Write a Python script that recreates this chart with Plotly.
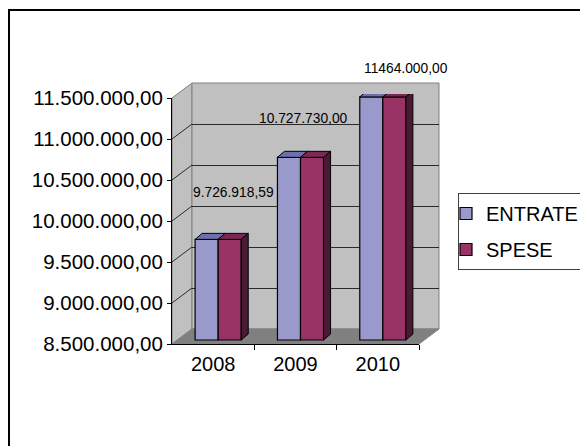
import plotly.graph_objects as go

# ---------------- data ----------------
YEARS = ["2008", "2009", "2010"]
SERIES_NAMES = ["ENTRATE", "SPESE"]
ENTRATE = [9726918.59, 10727730.00, 11464000.00]
SPESE = [9726918.59, 10727730.00, 11464000.00]
DATA_LABELS = ["9.726.918,59", "10.727.730,00", "11464.000,00"]
Y_TICKS = [8500000, 9000000, 9500000, 10000000, 10500000, 11000000, 11500000]
Y_TICK_LABELS = ["8.500.000,00", "9.000.000,00", "9.500.000,00", "10.000.000,00",
                 "10.500.000,00", "11.000.000,00", "11.500.000,00"]

Y_MIN, Y_MAX = Y_TICKS[0], Y_TICKS[-1]
X_POS = list(range(len(YEARS)))
X_RANGE = [-0.5, len(YEARS) - 0.5]

# ---------------- geometry (px) ----------------
W, H = 580, 446
FL, FR, FT, FB = 172, 419, 98, 344          # front plane of the plot box
BACK_DX, BACK_DY = 20, 15                   # depth offset of the back wall
BAR_DX, BAR_DY = 5, 4                       # depth offset of the bar plane
BAR_DEPTH_X, BAR_DEPTH_Y = 7, 6             # depth of each bar
PAD = 3                                     # extra room below bar plane (for outline)

L, R, T, B = FL, FR + BACK_DX, FT - BACK_DY, FB
PW, PH = R - L, B - T
PPX = (FR - FL) / (X_RANGE[1] - X_RANGE[0])     # px per category unit
PPY = (FB - FT) / (Y_MAX - Y_MIN)               # px per value unit

def paper(px, py):
    return (px - L) / PW, (B - py) / PH

def front_y(v):
    return FB - (v - Y_MIN) * PPY

FONT = "Arial, 'Liberation Sans', sans-serif"
C_ENT, C_SPE = "#9999CC", "#993366"
C_ENT_TOP, C_SPE_TOP, C_SPE_SIDE = "#6F6FAE", "#7A2952", "#4A1A35"
WALL, FLOOR, EDGE, GRID = "#C0C0C0", "#808080", "#808080", "#2a2a2a"

BARGAP = 0.44
BW = (1 - BARGAP) / 2

fig = go.Figure()

fig.add_trace(go.Bar(x=X_POS, y=[v - Y_MIN for v in ENTRATE], base=Y_MIN, name=SERIES_NAMES[0],
                     marker=dict(color=C_ENT, line=dict(color="black", width=1.2)),
                     xaxis="x2", yaxis="y2", legendgroup="a"))
fig.add_trace(go.Bar(x=X_POS, y=[v - Y_MIN for v in SPESE], base=Y_MIN, name=SERIES_NAMES[1],
                     marker=dict(color=C_SPE, line=dict(color="black", width=1.2)),
                     xaxis="x2", yaxis="y2", legendgroup="b"))
# invisible traces anchoring the front axes and the back-wall axes
fig.add_trace(go.Scatter(x=[X_RANGE[0]], y=[Y_MIN], mode="markers", marker=dict(opacity=0),
                         showlegend=False, hoverinfo="skip", xaxis="x3", yaxis="y3"))
fig.add_trace(go.Scatter(x=[X_RANGE[0]], y=[Y_MIN], mode="markers", marker=dict(opacity=0),
                         showlegend=False, hoverinfo="skip", xaxis="x", yaxis="y"))

shapes = []

def poly(points, fill, line_color, width=1, layer="below", xref="paper", yref="paper"):
    d = "M " + " L ".join(f"{x},{y}" for x, y in points) + " Z"
    return dict(type="path", path=d, xref=xref, yref=yref, fillcolor=fill,
                line=dict(color=line_color, width=width), layer=layer)

# side wall
shapes.append(poly([paper(FL, FB), paper(FL, FT), paper(FL + BACK_DX, FT - BACK_DY),
                    paper(FL + BACK_DX, FB - BACK_DY)], WALL, EDGE))
# back wall
shapes.append(dict(type="rect", xref="x domain", yref="y domain", x0=0, x1=1, y0=0, y1=1,
                   fillcolor=WALL, line=dict(color=EDGE, width=1), layer="below"))
# floor
shapes.append(poly([paper(FL, FB), paper(FR, FB), paper(FR + BACK_DX, FB - BACK_DY),
                    paper(FL + BACK_DX, FB - BACK_DY)], FLOOR, EDGE))
# diagonal grid lines on the side wall
for v in Y_TICKS[1:-1]:
    x0, y0 = paper(FL, front_y(v))
    x1, y1 = paper(FL + BACK_DX, front_y(v) - BACK_DY)
    shapes.append(dict(type="line", xref="paper", yref="paper", x0=x0, y0=y0, x1=x1, y1=y1,
                       line=dict(color=GRID, width=1), layer="below"))

# 3-D faces of the bars (in bar-plane data units)
dxu = BAR_DEPTH_X / PPX
dyu = BAR_DEPTH_Y / PPY
for i, (ve, vs) in enumerate(zip(ENTRATE, SPESE)):
    x0, x1 = i - BW, i
    shapes.append(poly([(x0, ve), (x1, ve), (x1 + dxu, ve + dyu), (x0 + dxu, ve + dyu)],
                       C_ENT_TOP, "black", 1, "above", "x2", "y2"))
    x0, x1 = i, i + BW
    shapes.append(poly([(x0, vs), (x1, vs), (x1 + dxu, vs + dyu), (x0 + dxu, vs + dyu)],
                       C_SPE_TOP, "black", 1, "above", "x2", "y2"))
    shapes.append(poly([(x1, vs), (x1 + dxu, vs + dyu), (x1 + dxu, Y_MIN + dyu), (x1, Y_MIN)],
                       C_SPE_SIDE, "black", 1, "above", "x2", "y2"))

# outer chart border
bx0, by1 = paper(9, 10)
bx1, by0 = paper(W + 20, H + 20)
shapes.append(dict(type="rect", xref="paper", yref="paper", x0=bx0, x1=bx1, y0=by0, y1=by1,
                   line=dict(color="black", width=2), fillcolor="rgba(0,0,0,0)", layer="above"))

# data labels
LABEL_SHIFTS = [(15, 47), (3, 39), (23, 28)]
annotations = []
for i, (v, txt) in enumerate(zip(SPESE, DATA_LABELS)):
    annotations.append(dict(x=i, y=v, xref="x2", yref="y2", text=txt, showarrow=False,
                            xshift=LABEL_SHIFTS[i][0], yshift=LABEL_SHIFTS[i][1],
                            font=dict(size=13.8, color="black", family=FONT)))

hidden = dict(visible=False, showgrid=False, zeroline=False)

fig.update_layout(
    width=W, height=H,
    margin=dict(l=L, r=W - R, t=T, b=H - B, autoexpand=False),
    paper_bgcolor="white", plot_bgcolor="rgba(0,0,0,0)",
    font=dict(family=FONT, color="black", size=20),
    barmode="group", bargap=BARGAP, bargroupgap=0,
    showlegend=True,
    legend=dict(x=(458 - L) / PW, y=(B - 193) / PH, xanchor="left", yanchor="top",
                bordercolor="#404040", borderwidth=1, bgcolor="white",
                font=dict(size=20, family=FONT), indentation=-13,
                traceorder="grouped", tracegroupgap=7),
    # back wall axes
    xaxis=dict(domain=[BACK_DX / PW, 1], range=X_RANGE, **hidden),
    yaxis=dict(domain=[BACK_DY / PH, 1], range=[Y_MIN, Y_MAX], showgrid=True,
               tickvals=Y_TICKS[1:-1], gridcolor=GRID, gridwidth=1, showticklabels=False,
               ticks="", zeroline=False, showline=False),
    # bar plane axes
    xaxis2=dict(domain=[BAR_DX / PW, (FR - FL + BAR_DX) / PW], range=X_RANGE,
                anchor="y2", **hidden),
    yaxis2=dict(domain=[(BAR_DY - PAD) / PH, (FB - FT + BAR_DY) / PH],
                range=[Y_MIN - PAD / PPY, Y_MAX], anchor="x2", **hidden),
    # front axes
    xaxis3=dict(domain=[0, (FR - FL) / PW], range=X_RANGE, anchor="y3",
                tickvals=X_POS, ticktext=YEARS, ticks="", showline=True, linecolor="black",
                linewidth=1, showgrid=False, zeroline=False, ticklabelstandoff=2,
                minor=dict(tickvals=[p + 0.5 for p in X_POS], ticks="outside", ticklen=5,
                           tickcolor="black", showgrid=False),
                tickfont=dict(size=20)),
    yaxis3=dict(domain=[0, (FB - FT) / PH], range=[Y_MIN, Y_MAX], anchor="x3",
                tickvals=Y_TICKS, ticktext=Y_TICK_LABELS, ticks="outside", ticklen=4,
                tickcolor="black", showline=True, linecolor="black", linewidth=1,
                showgrid=False, zeroline=False, tickfont=dict(size=20.5)),
    shapes=shapes, annotations=annotations,
)

fig.write_html(
    "out.html",
    config={"displayModeBar": False},
    post_script="document.body.style.margin='0';"
                "document.body.style.overflow='hidden';"
                "document.documentElement.style.overflow='hidden';",
)
